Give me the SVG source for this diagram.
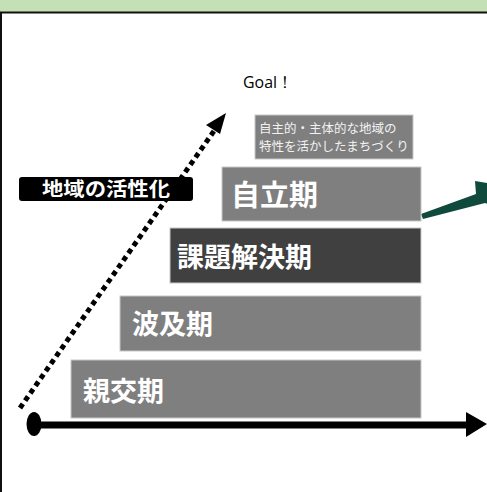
<svg xmlns="http://www.w3.org/2000/svg" width="487" height="492" viewBox="0 0 487 492">
<style>
.box{fill:#7f7f7f;stroke:#c8c8c8;stroke-width:1}
.dark{fill:#404040;stroke:#c8c8c8;stroke-width:1}
.lbl{font-family:"Noto Sans CJK JP","Noto Sans",sans-serif;font-weight:bold;fill:#ffffff}
.small{font-family:"Noto Sans CJK JP","Noto Sans",sans-serif;font-size:12.5px;fill:#f2f2f2}
</style>
<rect x="0" y="0" width="487" height="492" fill="#ffffff"/>
<rect x="0" y="0" width="487" height="12" fill="#c5e0b4"/>
<line x1="0" y1="12.5" x2="487" y2="12.5" stroke="#111" stroke-width="2"/>
<line x1="1" y1="12" x2="1" y2="492" stroke="#111" stroke-width="2"/>

<g id="connectors">
<line x1="20" y1="408" x2="214" y2="131" stroke="#000" stroke-width="5" stroke-dasharray="5 4"/>
<polygon points="226,113 206,125 220,134" fill="#000"/>
<line x1="40" y1="425" x2="467" y2="425" stroke="#000" stroke-width="7"/>
<polygon points="466,412 487,424 466,437" fill="#000"/>
<ellipse cx="34" cy="424" rx="7.5" ry="12" fill="#000"/>
<polygon points="421,214 476,194 475,181 492,184 492,206 485,203 423,219" fill="#0f4a3c"/>
</g>

<g id="goal">
<text x="243" y="88" font-family="Open Sans, sans-serif" font-size="17" fill="#000" textLength="50" lengthAdjust="spacingAndGlyphs">Goal！</text>
</g>

<g id="note">
<rect class="box" x="255" y="115" width="158" height="44"/>
<text class="small" x="259" y="133">自主的・主体的な地域の</text>
<text class="small" x="259" y="151">特性を活かしたまちづくり</text>
</g>

<g id="jiritsu">
<rect class="box" x="222" y="167" width="199" height="54"/>
<text class="lbl" x="231" y="206" font-size="29">自立期</text>
</g>

<g id="kadai">
<rect class="dark" x="170" y="228" width="251" height="55"/>
<text class="lbl" x="177" y="267" font-size="27">課題解決期</text>
</g>

<g id="hakyu">
<rect class="box" x="120" y="296" width="301" height="55"/>
<text class="lbl" x="132" y="334" font-size="27">波及期</text>
</g>

<g id="shinko">
<rect class="box" x="71" y="360" width="350" height="58"/>
<text class="lbl" x="83" y="401" font-size="27">親交期</text>
</g>

<g id="kasseika">
<rect x="19" y="177" width="174" height="24" rx="3" fill="#000"/>
<text class="lbl" x="42" y="196" font-size="19" textLength="128" lengthAdjust="spacingAndGlyphs">地域の活性化</text>
</g>
</svg>
